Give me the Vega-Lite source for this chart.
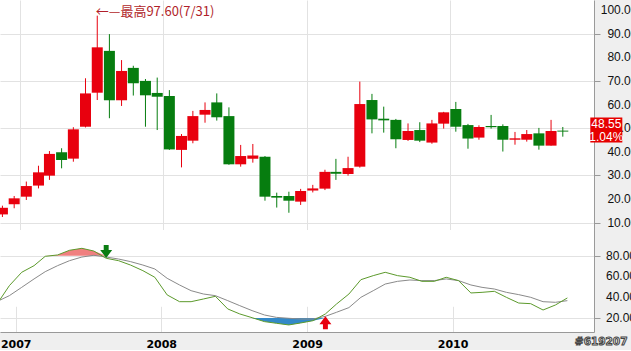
{
  "$schema": "https://vega.github.io/schema/vega-lite/v6.json",
  "background": "#efefef",
  "padding": 0,
  "spacing": 0,
  "config": {
    "view": {"fill": "white", "stroke": null},
    "font": "Liberation Sans",
    "axis": {"gridColor": "#e2e2e2", "gridWidth": 1, "domainColor": "#9a9a9a", "tickColor": "#9a9a9a", "labelColor": "#111111", "labelFont": "Liberation Sans", "labelFontSize": 12, "title": null}
  },
  "datasets": {
    "m": [
      {"d":"2006-11-16","o":13.5,"h":17.2,"l":12.4,"c":16.3,"k":34.0,"dd":36.0},
      {"d":"2006-12-16","o":17.8,"h":21.3,"l":16.1,"c":20.3,"k":51.1,"dd":41.5},
      {"d":"2007-01-16","o":21.0,"h":27.4,"l":19.6,"c":25.5,"k":64.0,"dd":49.5},
      {"d":"2007-02-16","o":25.7,"h":34.1,"l":24.5,"c":31.3,"k":70.4,"dd":57.6},
      {"d":"2007-03-16","o":29.9,"h":40.3,"l":28.1,"c":39.1,"k":79.4,"dd":64.6},
      {"d":"2007-04-16","o":39.8,"h":41.5,"l":33.0,"c":36.5,"k":80.7,"dd":70.4},
      {"d":"2007-05-16","o":37.1,"h":50.4,"l":35.8,"c":49.5,"k":85.2,"dd":75.2},
      {"d":"2007-06-16","o":50.6,"h":71.1,"l":50.3,"c":64.7,"k":87.1,"dd":78.7},
      {"d":"2007-07-16","o":65.0,"h":97.6,"l":61.9,"c":84.2,"k":84.5,"dd":80.4},
      {"d":"2007-08-16","o":82.7,"h":89.8,"l":54.2,"c":61.8,"k":77.5,"dd":78.7},
      {"d":"2007-09-16","o":61.8,"h":78.8,"l":59.4,"c":74.2,"k":75.2,"dd":76.8},
      {"d":"2007-10-16","o":75.5,"h":76.4,"l":63.8,"c":69.0,"k":71.0,"dd":74.3},
      {"d":"2007-11-16","o":70.0,"h":70.8,"l":50.6,"c":63.9,"k":65.6,"dd":71.0},
      {"d":"2007-12-16","o":64.9,"h":71.4,"l":49.2,"c":63.3,"k":59.2,"dd":67.2},
      {"d":"2008-01-16","o":63.6,"h":66.1,"l":40.8,"c":41.0,"k":42.2,"dd":58.2},
      {"d":"2008-02-16","o":40.8,"h":47.5,"l":33.4,"c":46.7,"k":35.7,"dd":51.8},
      {"d":"2008-03-16","o":44.7,"h":57.3,"l":43.6,"c":55.1,"k":35.7,"dd":46.3},
      {"d":"2008-04-16","o":55.7,"h":60.9,"l":52.3,"c":57.7,"k":38.3,"dd":43.1},
      {"d":"2008-05-16","o":60.9,"h":64.7,"l":53.2,"c":54.6,"k":40.9,"dd":41.5},
      {"d":"2008-06-16","o":55.1,"h":58.8,"l":34.5,"c":34.7,"k":28.7,"dd":36.7},
      {"d":"2008-07-16","o":34.7,"h":42.9,"l":33.7,"c":38.2,"k":23.9,"dd":31.9},
      {"d":"2008-08-16","o":37.1,"h":43.3,"l":35.4,"c":38.4,"k":20.3,"dd":27.1},
      {"d":"2008-09-16","o":37.9,"h":38.2,"l":19.3,"c":21.0,"k":16.5,"dd":22.9},
      {"d":"2008-10-16","o":21.3,"h":22.7,"l":16.4,"c":20.6,"k":14.9,"dd":20.6},
      {"d":"2008-11-16","o":21.3,"h":23.1,"l":14.2,"c":19.3,"k":13.3,"dd":19.7},
      {"d":"2008-12-16","o":18.9,"h":24.3,"l":17.5,"c":23.4,"k":15.2,"dd":19.0},
      {"d":"2009-01-16","o":23.6,"h":26.0,"l":22.8,"c":24.5,"k":17.4,"dd":19.0},
      {"d":"2009-02-16","o":24.4,"h":32.4,"l":23.8,"c":31.5,"k":23.9,"dd":21.6},
      {"d":"2009-03-16","o":31.5,"h":37.0,"l":28.1,"c":30.7,"k":33.5,"dd":25.5},
      {"d":"2009-04-16","o":30.6,"h":37.9,"l":29.9,"c":33.1,"k":43.1,"dd":30.0},
      {"d":"2009-05-16","o":33.7,"h":69.7,"l":33.3,"c":60.2,"k":56.9,"dd":39.9},
      {"d":"2009-06-16","o":61.9,"h":64.5,"l":47.8,"c":53.7,"k":60.8,"dd":46.3},
      {"d":"2009-07-16","o":54.0,"h":59.1,"l":48.1,"c":53.3,"k":64.0,"dd":52.7},
      {"d":"2009-08-16","o":53.5,"h":53.9,"l":41.5,"c":45.3,"k":60.8,"dd":55.3},
      {"d":"2009-09-16","o":45.0,"h":52.0,"l":44.6,"c":48.8,"k":59.2,"dd":56.6},
      {"d":"2009-10-16","o":49.2,"h":52.5,"l":44.1,"c":44.7,"k":55.3,"dd":56.0},
      {"d":"2009-11-16","o":43.9,"h":53.5,"l":43.4,"c":52.0,"k":55.3,"dd":56.0},
      {"d":"2009-12-16","o":51.9,"h":56.9,"l":49.8,"c":56.7,"k":59.2,"dd":57.6},
      {"d":"2010-01-16","o":58.1,"h":61.1,"l":48.5,"c":50.6,"k":56.0,"dd":56.0},
      {"d":"2010-02-16","o":51.3,"h":51.8,"l":41.3,"c":45.6,"k":44.1,"dd":51.8},
      {"d":"2010-03-16","o":46.0,"h":51.2,"l":45.1,"c":50.5,"k":44.7,"dd":49.5},
      {"d":"2010-04-16","o":50.9,"h":55.6,"l":49.8,"c":50.4,"k":45.7,"dd":47.9},
      {"d":"2010-05-16","o":50.9,"h":51.6,"l":40.1,"c":45.1,"k":39.9,"dd":44.7},
      {"d":"2010-06-16","o":45.1,"h":48.4,"l":43.0,"c":45.7,"k":34.4,"dd":42.5},
      {"d":"2010-07-16","o":45.1,"h":49.2,"l":44.3,"c":47.5,"k":33.8,"dd":39.9},
      {"d":"2010-08-16","o":47.8,"h":50.1,"l":40.9,"c":42.6,"k":27.7,"dd":35.7},
      {"d":"2010-09-16","o":42.6,"h":53.5,"l":42.6,"c":48.8,"k":32.5,"dd":35.1},
      {"d":"2010-10-16","o":48.95,"h":50.5,"l":46.4,"c":48.55,"k":39.3,"dd":36.7}
    ],
    "sig": [
      {"d":"2007-08-16","v":77.8,"dir":"down"},
      {"d":"2009-02-16","v":21.6,"dir":"up"}
    ],
    "yl": [
      {"d":"2010-10-16","v":10,"t":"10.00"},
      {"d":"2010-10-16","v":20,"t":"20.00"},
      {"d":"2010-10-16","v":30,"t":"30.00"},
      {"d":"2010-10-16","v":40,"t":"40.00"},
      {"d":"2010-10-16","v":50,"t":"50.00"},
      {"d":"2010-10-16","v":60,"t":"60.00"},
      {"d":"2010-10-16","v":70,"t":"70.00"},
      {"d":"2010-10-16","v":80,"t":"80.00"},
      {"d":"2010-10-16","v":90,"t":"90.00"},
      {"d":"2010-10-16","v":100,"t":"100.00"}
    ],
    "yl2": [
      {"d":"2010-10-16","v":20,"t":"20.00"},
      {"d":"2010-10-16","v":40,"t":"40.00"},
      {"d":"2010-10-16","v":60,"t":"60.00"},
      {"d":"2010-10-16","v":80,"t":"80.00"}
    ]
  },
  "vconcat": [
    {
      "width": 594,
      "height": 230,
      "data": {"name": "m"},
      "encoding": {
        "x": {
          "field": "d", "type": "temporal",
          "scale": {"type": "utc", "domain": [{"year": 2006, "month": 11, "date": 22, "hours": 14, "utc": true}, {"year": 2010, "month": 12, "date": 21, "hours": 20, "utc": true}]},
          "axis": {"values": [{"year": 2007, "month": 1, "date": 1, "utc": true}, {"year": 2008, "month": 1, "date": 1, "utc": true}, {"year": 2009, "month": 1, "date": 1, "utc": true}, {"year": 2010, "month": 1, "date": 1, "utc": true}], "grid": true, "labels": false, "ticks": false, "domain": true, "domainColor": "#505050", "minExtent": 0, "maxExtent": 0}
        }
      },
      "layer": [
        {
          "mark": {"type": "rule", "clip": true, "strokeWidth": 1},
          "encoding": {
            "y": {"field": "l", "type": "quantitative", "scale": {"domain": [6.9, 104.23], "nice": false, "zero": false},
              "axis": {"orient": "right", "values": [10,15,20,25,30,35,40,45,50,55,60,65,70,75,80,85,90,95,100], "grid": true,
                "gridOpacity": {"condition": {"test": "datum.value % 10 === 0", "value": 1}, "value": 0},
                "tickSize": {"condition": {"test": "datum.value % 10 === 0", "value": 6}, "value": 4},
                "labels": false}},
            "y2": {"field": "h"},
            "color": {"condition": {"test": "datum.c >= datum.o", "value": "#e8000e"}, "value": "#067d0f"}
          }
        },
        {
          "mark": {"type": "bar", "clip": true, "size": 11},
          "encoding": {
            "y": {"field": "o", "type": "quantitative"},
            "y2": {"field": "c"},
            "color": {"condition": {"test": "datum.c >= datum.o", "value": "#e8000e"}, "value": "#067d0f"}
          }
        },
        {
          "data": {"values": [{"d": "2007-07-16", "h": 97.6}]},
          "mark": {"type": "text", "text": "←—最高97.60(7/31)", "align": "left", "baseline": "middle", "dx": -1.5, "dy": -4, "fontSize": 13, "font": "Noto Sans CJK TC", "color": "#b11f2a"},
          "encoding": {"y": {"field": "h", "type": "quantitative"}}
        },
        {
          "data": {"name": "yl"},
          "mark": {"type": "text", "align": "right", "baseline": "middle", "dx": 74.6, "fontSize": 12, "color": "#111111"},
          "encoding": {"y": {"field": "v", "type": "quantitative"}, "text": {"field": "t"}}
        },
        {
          "data": {"values": [{"d": "2010-10-16", "c": 48.55}]},
          "mark": {"type": "point", "shape": "M-1,-0.78L1,-0.78L1,0.78L-1,0.78Z", "size": 1024, "filled": true, "opacity": 1, "color": "#e60000", "xOffset": 43.5, "yOffset": -1.5},
          "encoding": {"y": {"field": "c", "type": "quantitative"}}
        },
        {
          "data": {"values": [{"d": "2010-10-16", "c": 48.55}]},
          "mark": {"type": "text", "text": ["48.55", "1.04%"], "color": "white", "fontSize": 12, "lineHeight": 13, "align": "center", "baseline": "middle", "xOffset": 43.5, "yOffset": -8},
          "encoding": {"y": {"field": "c", "type": "quantitative"}}
        }
      ]
    },
    {
      "width": 594,
      "height": 102,
      "data": {"name": "m"},
      "encoding": {
        "x": {
          "field": "d", "type": "temporal",
          "scale": {"type": "utc", "domain": [{"year": 2006, "month": 11, "date": 22, "hours": 14, "utc": true}, {"year": 2010, "month": 12, "date": 21, "hours": 20, "utc": true}]},
          "axis": {"values": [{"year": 2007, "month": 1, "date": 1, "utc": true}, {"year": 2008, "month": 1, "date": 1, "utc": true}, {"year": 2009, "month": 1, "date": 1, "utc": true}, {"year": 2010, "month": 1, "date": 1, "utc": true}], "format": "%Y", "grid": true, "ticks": false, "tickSize": 0, "labelPadding": 6, "labelFont": "DejaVu Sans", "labelFontWeight": "bold", "labelFontSize": 11, "labelColor": "#000000", "labelFlush": false, "minExtent": 18, "maxExtent": 18, "domainColor": "#999999"}
        }
      },
      "layer": [
        {
          "mark": {"type": "area", "clip": true, "color": "#f08080", "opacity": 1},
          "encoding": {
            "y": {"field": "k", "type": "quantitative", "scale": {"domain": [80, 104.75], "range": [25.69, 0], "clamp": true, "nice": false, "zero": false}, "axis": null},
            "y2": {"datum": 80}
          }
        },
        {
          "mark": {"type": "area", "clip": true, "color": "#3389c8", "opacity": 1},
          "encoding": {
            "y": {"field": "k", "type": "quantitative", "scale": {"domain": [6.5, 20], "range": [102, 87.98], "clamp": true, "nice": false, "zero": false}, "axis": null},
            "y2": {"datum": 20}
          }
        },
        {
          "layer": [
            {
              "mark": {"type": "line", "clip": true, "color": "#8a8a8a", "strokeWidth": 1},
              "encoding": {
                "y": {"field": "dd", "type": "quantitative", "scale": {"domain": [6.5, 104.75], "nice": false, "zero": false},
                  "axis": {"orient": "right", "values": [20, 40, 60, 80], "grid": true, "tickSize": 6, "labels": false}}
              }
            },
            {
              "mark": {"type": "line", "clip": true, "color": "#5c9a2c", "strokeWidth": 1},
              "encoding": {"y": {"field": "k", "type": "quantitative"}}
            },
            {
              "data": {"name": "sig"},
              "mark": {"type": "point", "filled": true, "opacity": 1, "size": 169},
              "encoding": {
                "y": {"field": "v", "type": "quantitative"},
                "shape": {"field": "dir", "type": "nominal", "scale": {"domain": ["down", "up"], "range": ["M-0.38,-2L0.38,-2L0.38,-1.23L0.92,-1.23L0,0L-0.92,-1.23L-0.38,-1.23Z", "M-0.38,2L0.38,2L0.38,1.23L0.92,1.23L0,0L-0.92,1.23L-0.38,1.23Z"]}, "legend": null},
                "color": {"field": "dir", "type": "nominal", "scale": {"domain": ["down", "up"], "range": ["#0a7d12", "#e8000e"]}, "legend": null}
              }
            },
            {
              "data": {"name": "yl2"},
              "mark": {"type": "text", "align": "left", "baseline": "middle", "dx": 38.6, "fontSize": 12, "color": "#111111"},
              "encoding": {"y": {"field": "v", "type": "quantitative"}, "text": {"field": "t"}}
            },
            {
              "data": {"values": [{"d": "2010-10-16"}]},
              "mark": {"type": "text", "text": "#619207", "font": "DejaVu Sans", "fontWeight": "bold", "fontSize": 10.5, "fill": "#eeeeee", "stroke": "#444444", "strokeWidth": 1, "align": "center", "baseline": "middle", "dx": 33.8, "dy": 9.5},
              "encoding": {
                "y": {"datum": 6.5, "type": "quantitative"}
              }
            }
          ]
        }
      ],
      "resolve": {"scale": {"y": "independent"}}
    }
  ]
}
